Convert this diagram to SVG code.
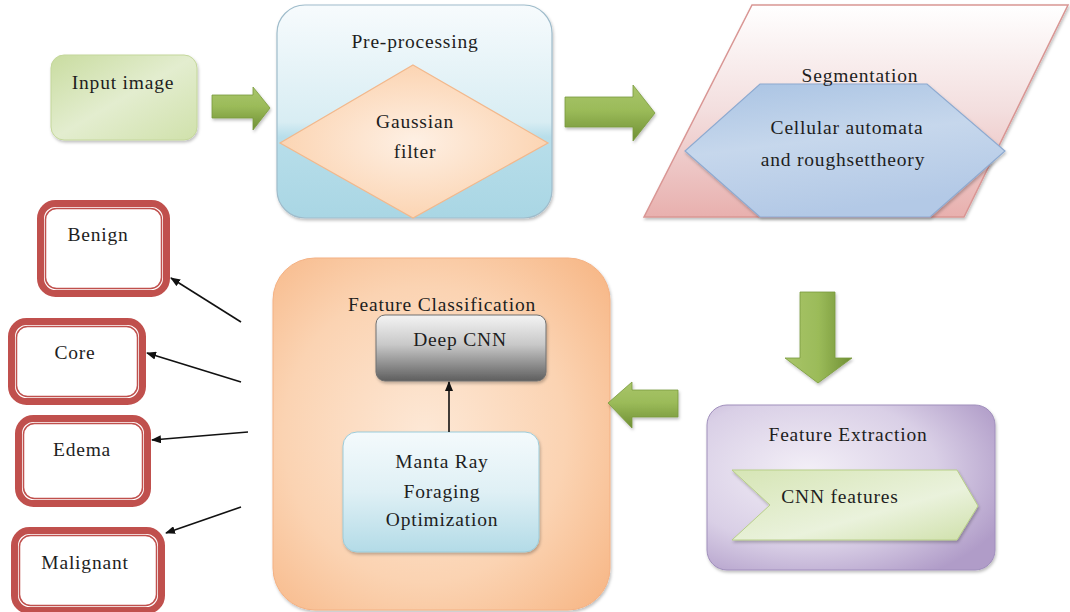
<svg xmlns="http://www.w3.org/2000/svg" width="1070" height="612" viewBox="0 0 1070 612">
<style>
text{font-family:"Liberation Serif","Times New Roman",serif;font-size:19.5px;fill:#1e1e1e;text-anchor:middle;letter-spacing:0.8px}
.out{fill:#fff;stroke:#c0504d;stroke-width:7}
.outin{fill:none;stroke:#c0504d;stroke-width:1.5}
.conn{stroke:#111;stroke-width:1.6;fill:none;marker-end:url(#ah)}
.garrow{fill:url(#gArrow);stroke:#7a9a3c;stroke-width:0.8}
</style>
<defs>
<marker id="ah" markerWidth="10" markerHeight="8" refX="9" refY="4" orient="auto" markerUnits="userSpaceOnUse">
<path d="M0,0 L10,4 L0,8 Z" fill="#111"/>
</marker>
<filter id="sh" x="-10%" y="-10%" width="120%" height="125%">
<feDropShadow dx="1" dy="2" stdDeviation="1.5" flood-color="#000" flood-opacity="0.25"/>
</filter>
<linearGradient id="gInput" x1="0" y1="0" x2="1" y2="1">
<stop offset="0" stop-color="#c9dca0"/>
<stop offset="0.5" stop-color="#e3edcf"/>
<stop offset="1" stop-color="#d0e1ab"/>
</linearGradient>
<linearGradient id="gPre" x1="0" y1="0" x2="0" y2="1">
<stop offset="0" stop-color="#f7fbfd"/>
<stop offset="0.55" stop-color="#d8edf3"/>
<stop offset="0.62" stop-color="#b8deea"/>
<stop offset="1" stop-color="#a9d6e4"/>
</linearGradient>
<radialGradient id="gDia" cx="0.5" cy="0.5" r="0.6">
<stop offset="0" stop-color="#fef0e4"/>
<stop offset="1" stop-color="#fbcfa9"/>
</radialGradient>
<linearGradient id="gSeg" x1="0" y1="0" x2="0" y2="1">
<stop offset="0" stop-color="#ffffff"/>
<stop offset="0.5" stop-color="#f3dede"/>
<stop offset="1" stop-color="#e8b0ae"/>
</linearGradient>
<linearGradient id="gHex" x1="0" y1="0" x2="0.3" y2="1">
<stop offset="0" stop-color="#a9c3e3"/>
<stop offset="0.5" stop-color="#c6d7ec"/>
<stop offset="1" stop-color="#b3c9e6"/>
</linearGradient>
<radialGradient id="gFC" cx="0.45" cy="0.5" r="0.7">
<stop offset="0" stop-color="#fde8d6"/>
<stop offset="0.6" stop-color="#fbd3b2"/>
<stop offset="1" stop-color="#f7b888"/>
</radialGradient>
<linearGradient id="gDeep" x1="0" y1="0" x2="0" y2="1">
<stop offset="0" stop-color="#f4f4f4"/>
<stop offset="0.45" stop-color="#c8c8c8"/>
<stop offset="1" stop-color="#5e5e5e"/>
</linearGradient>
<linearGradient id="gManta" x1="0" y1="0" x2="0" y2="1">
<stop offset="0" stop-color="#f4fafc"/>
<stop offset="0.5" stop-color="#dff0f5"/>
<stop offset="1" stop-color="#b3dbe7"/>
</linearGradient>
<radialGradient id="gFE" cx="0.35" cy="0.4" r="0.75">
<stop offset="0" stop-color="#f3eff7"/>
<stop offset="0.6" stop-color="#d9cfe6"/>
<stop offset="1" stop-color="#b09cc8"/>
</radialGradient>
<linearGradient id="gChev" x1="0" y1="0" x2="1" y2="1">
<stop offset="0" stop-color="#d6e5b5"/>
<stop offset="0.6" stop-color="#eaf2dc"/>
<stop offset="1" stop-color="#cfe0aa"/>
</linearGradient>
<linearGradient id="gArrow" x1="0" y1="0" x2="0" y2="1">
<stop offset="0" stop-color="#a9c56a"/>
<stop offset="0.45" stop-color="#9bbb59"/>
<stop offset="1" stop-color="#6f8f34"/>
</linearGradient>
<linearGradient id="gArrowV" x1="0" y1="0" x2="1" y2="0">
<stop offset="0" stop-color="#a9c56a"/>
<stop offset="0.5" stop-color="#9bbb59"/>
<stop offset="1" stop-color="#6f8f34"/>
</linearGradient>
</defs>

<g id="input-image">
<rect x="51" y="55" width="146" height="85" rx="13" fill="url(#gInput)" stroke="#c4d79b" stroke-width="1" filter="url(#sh)"/>
<text x="123" y="89">Input image</text>
</g>

<g id="pre-processing">
<rect x="277" y="5" width="275" height="213" rx="28" fill="url(#gPre)" stroke="#9fbccb" stroke-width="1.2" filter="url(#sh)"/>
<text x="415" y="48">Pre-processing</text>
<polygon points="413,65 548,143 413,218 280,143" fill="url(#gDia)" stroke="#f2b88c" stroke-width="1.2"/>
<text x="415" y="128">Gaussian</text>
<text x="415" y="158">filter</text>
</g>

<g id="segmentation">
<polygon points="752,5 1068,5 964,217 644,217" fill="url(#gSeg)" stroke="#d99694" stroke-width="1.5" filter="url(#sh)"/>
<polygon points="760,84 927,84 1005,151 930,217 760,217 685,151" fill="url(#gHex)" stroke="#8eaad0" stroke-width="1.2" filter="url(#sh)"/>
<text x="860" y="82">Segmentation</text>
<text x="847" y="134">Cellular automata</text>
<text x="843" y="166">and roughsettheory</text>
</g>

<g id="feature-extraction">
<rect x="707" y="405" width="288" height="165" rx="20" fill="url(#gFE)" stroke="#a08fbc" stroke-width="1" filter="url(#sh)"/>
<text x="848" y="441">Feature Extraction</text>
<polygon points="732,470 957,470 978,506 957,540 732,540 770,505" fill="url(#gChev)" stroke="#b8cf88" stroke-width="1" filter="url(#sh)"/>
<text x="840" y="503">CNN features</text>
</g>

<g id="feature-classification">
<rect x="273" y="258" width="337" height="352" rx="42" fill="url(#gFC)" stroke="#f4b183" stroke-width="1" filter="url(#sh)"/>
<text x="442" y="311">Feature Classification</text>
</g>

<g id="deep-cnn">
<rect x="376" y="315" width="170" height="66" rx="9" fill="url(#gDeep)" stroke="#707070" stroke-width="1" filter="url(#sh)"/>
<text x="460" y="346">Deep CNN</text>
</g>

<g id="manta-ray">
<rect x="343" y="432" width="196" height="120" rx="14" fill="url(#gManta)" stroke="#9ccbd9" stroke-width="1" filter="url(#sh)"/>
<text x="442" y="468">Manta Ray</text>
<text x="442" y="498">Foraging</text>
<text x="442" y="526">Optimization</text>
</g>

<g id="benign">
<rect class="out" x="40.5" y="203.5" width="126" height="90" rx="15"/>
<rect class="outin" x="45.5" y="208.5" width="116" height="80" rx="11"/>
<text x="98" y="241">Benign</text>
</g>
<g id="core">
<rect class="out" x="11.5" y="321.5" width="131" height="80" rx="15"/>
<rect class="outin" x="16.5" y="326.5" width="121" height="70" rx="11"/>
<text x="75" y="359">Core</text>
</g>
<g id="edema">
<rect class="out" x="18.5" y="418.5" width="129" height="85" rx="15"/>
<rect class="outin" x="23.5" y="423.5" width="119" height="75" rx="11"/>
<text x="82" y="456">Edema</text>
</g>
<g id="malignant">
<rect class="out" x="14.5" y="530.5" width="147" height="80" rx="15"/>
<rect class="outin" x="19.5" y="535.5" width="137" height="70" rx="11"/>
<text x="85" y="569">Malignant</text>
</g>

<g id="connectors">
<polygon class="garrow" points="212,95 253,95 253,87 270,108 253,130 253,118 212,118" filter="url(#sh)"/>
<polygon class="garrow" points="565,97 633,97 633,85 655,113 633,141 633,127 565,127" filter="url(#sh)"/>
<polygon points="800,292 835,292 835,358 852,358 818,383 785,358 800,358" fill="url(#gArrowV)" stroke="#7a9a3c" stroke-width="0.8" filter="url(#sh)"/>
<polygon class="garrow" points="678,390 632,390 632,382 608,403 632,428 632,417 678,417" filter="url(#sh)"/>
<line class="conn" x1="449" y1="432" x2="449" y2="382"/>
<line class="conn" x1="241" y1="322" x2="171" y2="278"/>
<line class="conn" x1="241" y1="382" x2="147" y2="353"/>
<line class="conn" x1="248" y1="432" x2="152" y2="440"/>
<line class="conn" x1="241" y1="507" x2="166" y2="533"/>
</g>
</svg>
